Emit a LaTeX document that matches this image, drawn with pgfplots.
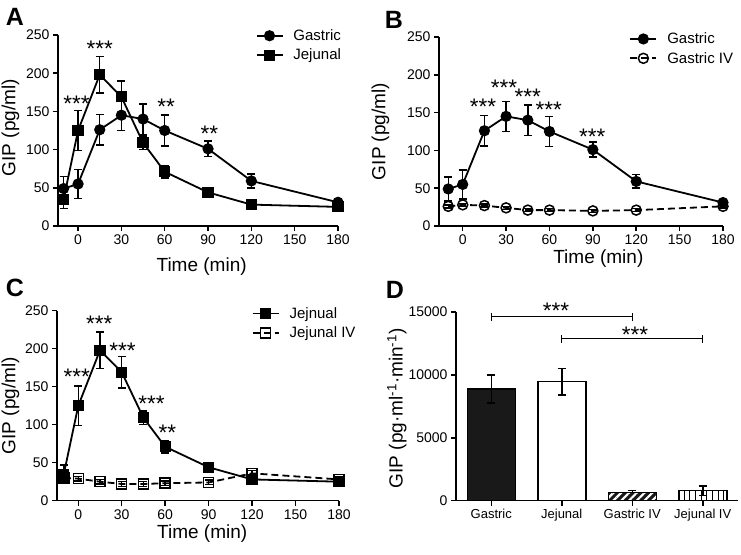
\documentclass[border=0pt]{standalone}
\usepackage{fontspec}
\setmainfont{Liberation Sans}
\usepackage{pgfplots}
\pgfplotsset{compat=1.18}
\usetikzlibrary{patterns,patterns.meta}

\tikzset{sigstar/.style={font=\fontsize{22.5}{22.5}\selectfont, anchor=north, inner sep=0pt}}
\pgfplotsset{
  prism/.style={
    scale only axis,
    axis x line*=bottom, axis y line*=left,
    axis line style={-, line width=1.5pt},
    tick align=outside,
    major tick length=5pt,
    tick style={line width=1.5pt, black},
    tick label style={font=\fontsize{14}{16}\selectfont},
    label style={font=\fontsize{19}{22}\selectfont},
    /pgf/number format/assume math mode=true,
    /pgf/number format/1000 sep={},
    scaled y ticks=false,
    clip=false,
    legend style={draw=none, fill=none, font=\fontsize{15}{17}\selectfont,
      inner sep=0pt, row sep=3pt, anchor=north west,
      nodes={inner sep=2pt},
      /tikz/every odd column/.append style={column sep=8pt}},
    legend cell align=left,
    legend image code/.code={\draw[mark repeat=2,mark phase=2,##1] plot coordinates {(0pt,0pt) (13pt,0pt) (26pt,0pt)};},
  },
  timeaxis/.style={prism, xmax=180, ymin=0, ymax=250,
    xtick={0,30,...,180}, ytick={0,50,...,250},
    xlabel={Time (min)}, ylabel={GIP (pg/ml)}},
  ser/.style={black, line width=1.8pt, mark size=5pt,
    mark options={solid, fill=black, line width=1.2pt},
    error bars/y dir=both, error bars/y explicit,
    error bars/error bar style={line width=1.5pt, solid},
    error bars/error mark options={rotate=90, mark size=4pt, line width=1.5pt, solid}},
  iv/.style={black, line width=1.8pt, dash pattern=on 7pt off 4pt, mark size=5pt,
    mark options={solid, line width=1.5pt},
    error bars/y dir=both, error bars/y explicit,
    error bars/error bar style={line width=1.5pt, solid},
    error bars/error mark options={rotate=90, mark size=4pt, line width=1.5pt, solid}},
}

\begin{document}
\begin{tikzpicture}
\useasboundingbox (0pt,0pt) rectangle (741pt,554pt);

% ---------- Panel A ----------
\begin{axis}[timeaxis, at={(58pt,328pt)}, anchor=south west,
  width=280pt, height=191pt, xmin=-13.9,
  xlabel style={at={(axis description cs:0.513,-0.237)}, anchor=base},
  ylabel style={at={(axis description cs:-0.17,0.515)}, anchor=center},
  legend style={at={(rel axis cs:0.705,1.04)}}]
\addplot[ser, mark=*] coordinates {
 (-10,49) +- (0,16) (0,55) +- (0,19) (15,126) +- (0,20) (30,145) +- (0,20)
 (45,140) +- (0,20) (60,125) +- (0,20) (90,101) +- (0,10) (120,59) +- (0,9) (180,31) +- (0,2)};
\addlegendentry{Gastric}
\addplot[ser, mark=square*] coordinates {
 (-10,35) +- (0,12) (0,125) +- (0,26) (15,198) +- (0,24) (30,169) +- (0,21)
 (45,109) +- (0,9) (60,71) +- (0,8) (90,44) +- (0,2) (120,28) +- (0,2) (180,25) +- (0,2)};
\addlegendentry{Jejunal}
\node[sigstar] at (axis cs:-1,171) {***};
\node[sigstar] at (axis cs:15,243) {***};
\node[sigstar] at (axis cs:61,167) {**};
\node[sigstar] at (axis cs:91,131) {**};
\end{axis}

% ---------- Panel B ----------
\begin{axis}[timeaxis, at={(439pt,328pt)}, anchor=south west,
  width=284pt, height=189pt, xmin=-16.4,
  xlabel style={at={(axis description cs:0.561,-0.2)}, anchor=base},
  ylabel style={at={(axis description cs:-0.206,0.5)}, anchor=center},
  legend style={at={(rel axis cs:0.67,1.034)}}]
\addplot[ser, mark=*] coordinates {
 (-10,49) +- (0,16) (0,55) +- (0,19) (15,126) +- (0,20) (30,145) +- (0,20)
 (45,140) +- (0,20) (60,125) +- (0,20) (90,101) +- (0,10) (120,59) +- (0,9) (180,31) +- (0,2)};
\addlegendentry{Gastric}
\addplot[iv, mark=o] coordinates {
 (-10,26) +- (0,2) (0,28) +- (0,2) (15,27) +- (0,2) (30,24) +- (0,2)
 (45,21) +- (0,2) (60,21) +- (0,2) (90,20) +- (0,2) (120,21) +- (0,2) (180,26) +- (0,2)};
\addlegendentry{Gastric IV}
\node[sigstar] at (axis cs:14,168) {***};
\node[sigstar] at (axis cs:28.5,193) {***};
\node[sigstar] at (axis cs:45,181) {***};
\node[sigstar] at (axis cs:59.5,164) {***};
\node[sigstar] at (axis cs:89.5,129) {***};
\end{axis}

% ---------- Panel C ----------
\begin{axis}[timeaxis, at={(57pt,53.3pt)}, anchor=south west,
  width=282pt, height=190pt, xmin=-14.7,
  xlabel style={at={(axis description cs:0.515,-0.2)}, anchor=base},
  ylabel style={at={(axis description cs:-0.165,0.5)}, anchor=center},
  legend style={at={(rel axis cs:0.69,1.029)}}]
\addplot[ser, mark=square*] coordinates {
 (-10,35) +- (0,12) (0,125) +- (0,26) (15,198) +- (0,24) (30,169) +- (0,21)
 (45,109) +- (0,9) (60,71) +- (0,8) (90,44) +- (0,2) (120,28) +- (0,2) (180,25) +- (0,2)};
\addlegendentry{Jejnual}
\addplot[iv, mark=square] coordinates {
 (-10,30) +- (0,4) (0,29) +- (0,3) (15,25) +- (0,3) (30,22) +- (0,3)
 (45,22) +- (0,3) (60,23) +- (0,3) (90,24) +- (0,3) (120,36) +- (0,4) (180,28) +- (0,3)};
\addlegendentry{Jejunal IV}
\node[sigstar] at (axis cs:-1,174) {***};
\node[sigstar] at (axis cs:14.5,243) {***};
\node[sigstar] at (axis cs:30.5,208) {***};
\node[sigstar] at (axis cs:50.5,138) {***};
\node[sigstar] at (axis cs:61.5,100) {**};
\end{axis}

% ---------- Panel D ----------
\begin{axis}[prism, at={(456pt,53.3pt)}, anchor=south west,
  width=282pt, height=188.7pt,
  ybar, bar shift=0pt, bar width=48pt,
  xmin=-0.5, xmax=3.5, ymin=0, ymax=15000,
  xtick={0,1,2,3}, xticklabels={Gastric,Jejunal,Gastric IV,Jejunal IV},
  xticklabel style={font=\fontsize{13}{15}\selectfont},
  ytick={0,5000,10000,15000},
  ylabel={GIP (pg·ml\textsuperscript{-1}·min\textsuperscript{-1})},
  ylabel style={at={(axis description cs:-0.21,0.49)}, anchor=center},
  error bars/y dir=both, error bars/y explicit,
  error bars/error bar style={line width=1.5pt, black},
  error bars/error mark options={rotate=90, mark size=4pt, line width=1.5pt, black}]
\addplot[draw=black, line width=1.5pt, fill=black!90] coordinates {(0,8880) +- (0,1120)};
\addplot[draw=black, line width=1.5pt, fill=white] coordinates {(1,9460) +- (0,1060)};
\addplot[draw=black, line width=1.5pt, fill=black!90,
  postaction={pattern={Lines[angle=45,distance=5.5pt,line width=2.2pt]}, pattern color=white},
  error bars/y dir=plus] coordinates {(2,636) +- (0,180)};
\addplot[draw=black, line width=1.5pt, fill=white,
  postaction={pattern={Lines[angle=90,distance=5.7pt,line width=1pt]}, pattern color=black}]
  coordinates {(3,795) +- (0,380)};
\draw[line width=1.2pt] (axis cs:0,14890) -- (axis cs:0,14310);
\draw[line width=1.2pt] (axis cs:0,14626) -- (axis cs:2,14626);
\draw[line width=1.2pt] (axis cs:2,14890) -- (axis cs:2,14310);
\draw[line width=1.2pt] (axis cs:1,13170) -- (axis cs:1,12560);
\draw[line width=1.2pt] (axis cs:1,12910) -- (axis cs:3,12910);
\draw[line width=1.2pt] (axis cs:3,13170) -- (axis cs:3,12560);
\node[sigstar] at (axis cs:0.92,15690) {***};
\node[sigstar] at (axis cs:2.04,13830) {***};
\end{axis}

% panel letters
\node[font=\bfseries\fontsize{25}{25}\selectfont] at (15pt,537pt) {A};
\node[font=\bfseries\fontsize{25}{25}\selectfont] at (394pt,534pt) {B};
\node[font=\bfseries\fontsize{25}{25}\selectfont] at (15pt,266pt) {C};
\node[font=\bfseries\fontsize{25}{25}\selectfont] at (395pt,264pt) {D};
\end{tikzpicture}
\end{document}
